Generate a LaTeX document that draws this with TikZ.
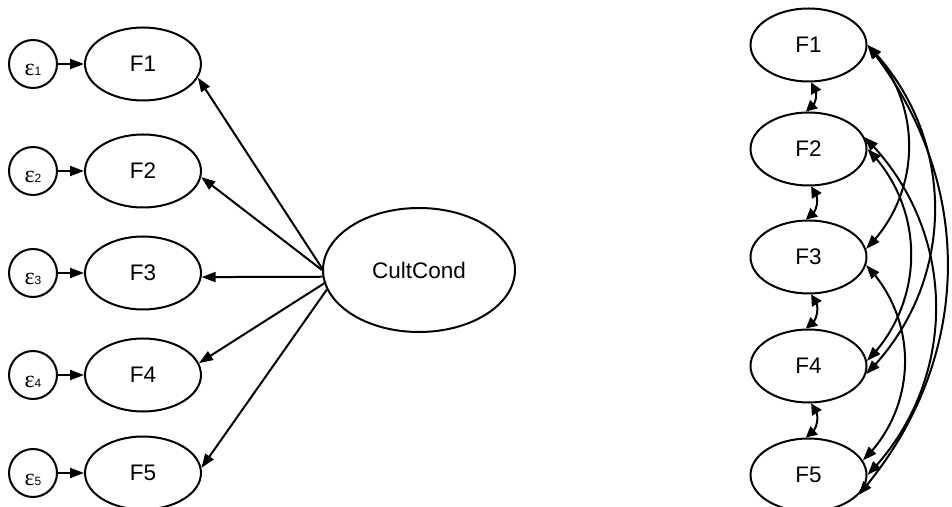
\documentclass[tikz,border=0pt]{standalone}
\usepackage{fontspec}
\setmainfont{Liberation Sans}
\newfontfamily\greekfont{Liberation Serif}
\usetikzlibrary{shapes.geometric,arrows.meta,bending}

\newcommand{\errlabel}[1]{\raisebox{-12pt}[0pt][0pt]{{\greekfont\fontsize{24}{24}\selectfont ε}{\fontsize{12}{12}\selectfont #1}}}

\begin{document}
\begin{tikzpicture}[x=1pt,y=1pt,
  every node/.style={font=\fontsize{22.5}{24}\selectfont},
  latent/.style={ellipse, draw, line width=2pt, minimum width=116pt, minimum height=73pt, inner sep=0pt},
  bigfactor/.style={ellipse, draw, line width=2pt, minimum width=192pt, minimum height=124pt, inner sep=0pt},
  errterm/.style={circle, draw, line width=2pt, minimum size=48pt, inner sep=0pt},
  load/.style={-{Triangle[length=14pt,width=10pt]}, line width=2pt},
  cov/.style={{Triangle[length=14pt,width=10pt]}-{Triangle[length=14pt,width=10pt]}, line width=2pt},
  shortcov/.style={{Triangle[length=11pt,width=11pt]}-{Triangle[length=11pt,width=11pt]}, line width=2pt},
]
\useasboundingbox (0,0) rectangle (952,506);

% first-order model: error terms and factors
\foreach \i/\y in {1/442, 2/335, 3/233, 4/131, 5/33} {
  \node[errterm] (e\i) at (33,\y) {\errlabel{\i}};
  \node[latent] (L\i) at (143,\y) {F\i};
  \draw[load] (e\i.east) -- (L\i.west);
}

% second-order factor
\node[bigfactor] (CC) at (419,236) {CultCond};
\draw[load] (CC.179) -- (L1.-14);
\draw[load] (CC.180) -- (L2.-6);
\draw[load] (CC.184) -- (L3.-4);
\draw[load] (CC.188) -- (L4.12);
\draw[load] (CC.192) -- (L5.5);

% correlated factors model
\foreach \i/\y in {1/461, 2/357, 3/249, 4/140, 5/31} {
  \node[latent] (R\i) at (808.5,\y) {F\i};
}

% covariances between neighbouring factors
\foreach \a/\b in {1/2, 2/3, 3/4, 4/5} {
  \draw[shortcov] (R\a.-86) to[bend left=60] (R\b.94);
}

% covariances between distant factors
\draw[cov] (R1.0) to[bend left=45] (R3.8);
\draw[cov] (R1.0) to[bend left=45] (R4.-8);
\draw[cov] (R1.0) to[bend left=40] (R5.-22);
\draw[cov] (R2.0) to[bend left=45] (R4.5);
\draw[cov] (R2.12) to[bend left=45] (R5.0);
\draw[cov] (R3.-8) to[bend left=45] (R5.15);
\end{tikzpicture}
\end{document}
